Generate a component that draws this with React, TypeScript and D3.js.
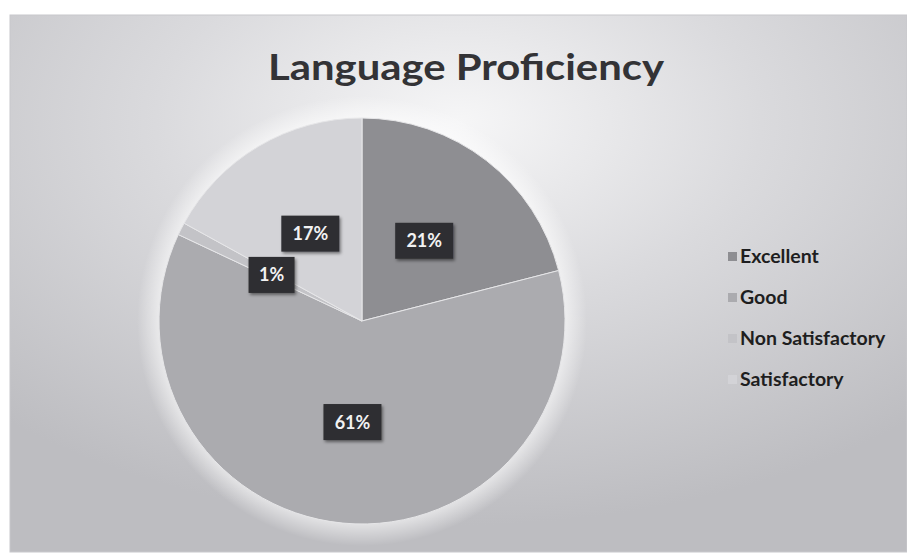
import React from "react";
import * as d3 from "d3";

const categories = ["Excellent", "Good", "Non Satisfactory", "Satisfactory"];
const values = [21, 61, 1, 17];
const colors = ["#8e8e92", "#ababaf", "#c3c3c7", "#d3d3d7"];
const title = "Language Proficiency";

export default function App() {
  const W = 907, H = 559;
  const cx = 362, cy = 321, R = 203;
  const pie = d3.pie<number>().sort(null).value((d) => d);
  const arcs = pie(values);
  const arc = d3.arc<d3.PieArcDatum<number>>().innerRadius(0).outerRadius(R);
  const legendY = d3.scalePoint<string>().domain(categories).range([258, 381]);

  return (
    <svg width={W} height={H} style={{ position: "fixed", left: 0, top: 0 }}
      fontFamily="Lato, 'Open Sans', sans-serif">
      <defs>
        <radialGradient id="bg" cx="0.5" cy="0.2" r="0.75">
          <stop offset="0" stopColor="#f6f6f7" />
          <stop offset="0.45" stopColor="#dadadd" />
          <stop offset="1" stopColor="#bdbdc1" />
        </radialGradient>
        <radialGradient id="glow">
          <stop offset="0.85" stopColor="#ffffff" stopOpacity="0.85" />
          <stop offset="1" stopColor="#ffffff" stopOpacity="0" />
        </radialGradient>
        <filter id="sh" x="-30%" y="-30%" width="160%" height="160%">
          <feDropShadow dx="1.5" dy="2" stdDeviation="1.5" floodColor="#000" floodOpacity="0.45" />
        </filter>
      </defs>
      <rect x={0} y={0} width={W} height={H} fill="#ffffff" />
      <rect x={10} y={15} width={W - 10} height={537} fill="url(#bg)" stroke="#c8c8cc" strokeWidth={1} />
      <text x={466} y={80} textAnchor="middle" fontSize={37} fontWeight={700} fill="#333336"
        textLength={396} lengthAdjust="spacingAndGlyphs">{title}</text>
      <circle cx={cx} cy={cy} r={R + 22} fill="url(#glow)" />
      <g transform={`translate(${cx},${cy})`}>
        {arcs.map((a, i) => (
          <path key={i} d={arc(a) || ""} fill={colors[i]} stroke="#e6e6e8" strokeWidth={1} />
        ))}
        {arcs.map((a, i) => {
          const [lx, ly] = arc.centroid(a);
          const label = `${values[i]}%`;
          const w = label.length === 2 ? 46 : 58;
          return (
            <g key={"l" + i} transform={`translate(${lx},${ly})`}>
              <rect x={-w / 2} y={-18} width={w} height={36} fill="#2e2e30" filter="url(#sh)" />
              <text x={0} y={6.5} textAnchor="middle" fontSize={18} fontWeight={700} fill="#f2f2f2">{label}</text>
            </g>
          );
        })}
      </g>
      <g>
        {categories.map((c, i) => (
          <g key={c} transform={`translate(728,${legendY(c)})`}>
            <rect x={0} y={-6} width={9} height={9} fill={colors[i]} />
            <text x={12} y={5} fontSize={19.5} fontWeight={700} fill="#1e1e20">{c}</text>
          </g>
        ))}
      </g>
    </svg>
  );
}
